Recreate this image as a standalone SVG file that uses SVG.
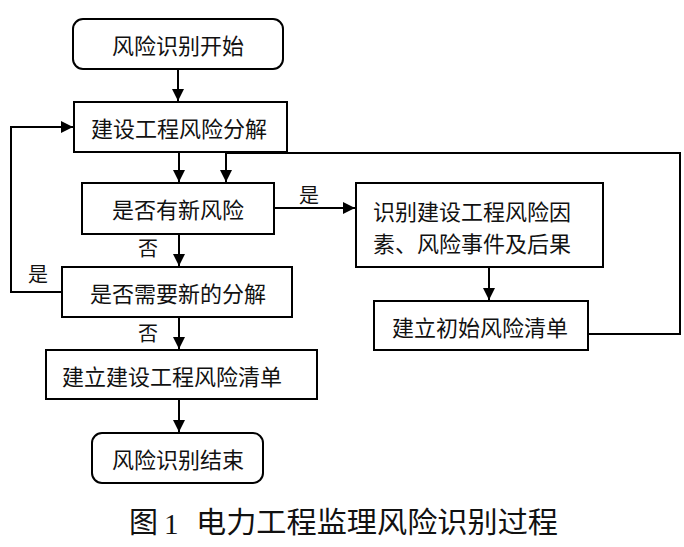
<svg xmlns="http://www.w3.org/2000/svg" width="684" height="547" viewBox="0 0 684 547">
<defs>
<style>
.box{fill:#fff;stroke:#000;stroke-width:2}
.t{font-family:"Noto Sans CJK SC","Noto Sans CJK TC",sans-serif;font-size:22px;fill:#111;text-anchor:middle;dominant-baseline:central}
.tl{font-family:"Noto Sans CJK SC",sans-serif;font-size:22px;fill:#111;dominant-baseline:central}
.lab{font-family:"Noto Sans CJK SC",sans-serif;font-size:20px;fill:#111;text-anchor:middle;dominant-baseline:central}
.cap{font-family:"Liberation Serif","Noto Sans CJK SC",serif;font-size:29px;fill:#111;dominant-baseline:central}
.c{fill:none;stroke:#000;stroke-width:2}
.ca{fill:none;stroke:#000;stroke-width:2;marker-end:url(#ah)}
</style>
<marker id="ah" markerUnits="userSpaceOnUse" markerWidth="14" markerHeight="14" refX="12" refY="6" orient="auto">
<path d="M0,0 L12,6 L0,12 Z" fill="#000"/>
</marker>
</defs>
<rect width="684" height="547" fill="#fff"/>
<g id="connectors">
<path class="ca" d="M178,69 V101"/>
<path class="ca" d="M62,292 H11 V127 H73"/>
<path class="ca" d="M179,152 V182"/>
<path class="ca" d="M588,334 H680 V153 H226 V182"/>
<path class="ca" d="M274,208 H355"/>
<path class="ca" d="M489,267 V300"/>
<path class="ca" d="M179,234 V266"/>
<path class="ca" d="M179,317 V349"/>
<path class="ca" d="M179,399 V432"/>
</g>
<g id="labels">
<text class="lab" x="309" y="194">是</text>
<text class="lab" x="148" y="247">否</text>
<text class="lab" x="38" y="273">是</text>
<text class="lab" x="148" y="332">否</text>
</g>
<g id="n1"><rect class="box" x="73" y="19" width="210" height="50" rx="10"/><text class="t" x="178" y="44">风险识别开始</text></g>
<g id="n2"><rect class="box" x="74" y="102" width="213" height="50"/><text class="t" x="179" y="127">建设工程风险分解</text></g>
<g id="n3"><rect class="box" x="82" y="183" width="192" height="51"/><text class="t" x="178" y="208">是否有新风险</text></g>
<g id="n4"><rect class="box" x="356" y="183" width="247" height="84"/><text class="tl" x="373" y="210">识别建设工程风险因</text><text class="tl" x="373" y="242">素、风险事件及后果</text></g>
<g id="n5"><rect class="box" x="374" y="301" width="214" height="49"/><text class="t" x="480" y="326">建立初始风险清单</text></g>
<g id="n6"><rect class="box" x="62" y="267" width="230" height="50"/><text class="t" x="178" y="292">是否需要新的分解</text></g>
<g id="n7"><rect class="box" x="46" y="350" width="271" height="49"/><text class="t" x="172" y="375">建立建设工程风险清单</text></g>
<g id="n8"><rect class="box" x="92" y="433" width="171" height="50" rx="10"/><text class="t" x="178" y="458">风险识别结束</text></g>
<g id="caption">
<text class="cap" x="129" y="523">图</text>
<text class="cap" x="164" y="524">1</text>
<text class="cap" x="196" y="523" textLength="362" lengthAdjust="spacingAndGlyphs">电力工程监理风险识别过程</text>
</g>
</svg>
